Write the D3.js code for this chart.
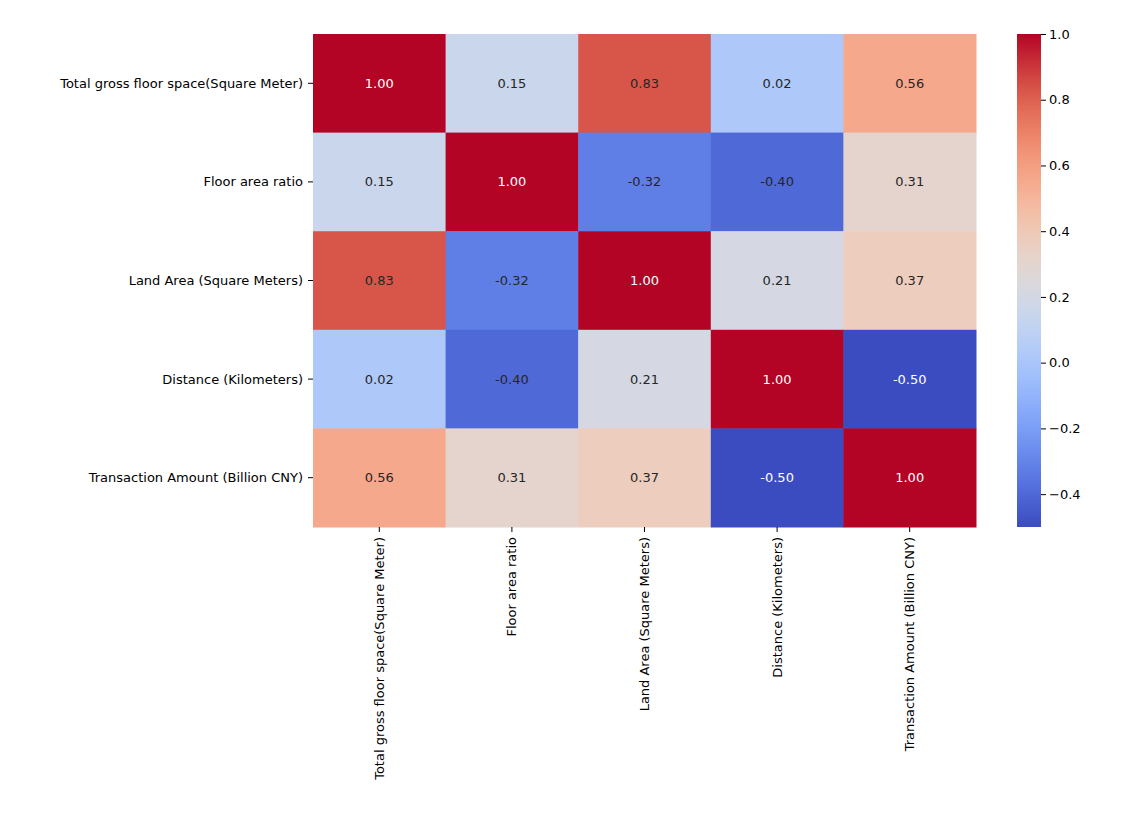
<!DOCTYPE html>
<html><head><meta charset="utf-8">
<script src="https://cdnjs.cloudflare.com/ajax/libs/d3/7.8.5/d3.min.js"></script>
<style>body{margin:0;background:#fff;} text{font-family:"DejaVu Sans",sans-serif;}</style>
</head><body>
<div id="chart"></div>
<script>
var labels = ["Total gross floor space(Square Meter)", "Floor area ratio", "Land Area (Square Meters)", "Distance (Kilometers)", "Transaction Amount (Billion CNY)"];
var values = [
  [1.00, 0.15, 0.83, 0.02, 0.56],
  [0.15, 1.00, -0.32, -0.40, 0.31],
  [0.83, -0.32, 1.00, 0.21, 0.37],
  [0.02, -0.40, 0.21, 1.00, -0.50],
  [0.56, 0.31, 0.37, -0.50, 1.00]
];
var cbTicks = [-0.4, -0.2, 0.0, 0.2, 0.4, 0.6, 0.8, 1.0];

// coolwarm approximation
var cwInterp = d3.interpolateRgbBasis(["#3b4cc0","#5977e3","#7b9ff9","#9ebeff","#c0d4f5","#dddcdc","#f2cbb7","#f7ac8e","#ee8468","#d65244","#b40426"]);
var vmin = -0.5, vmax = 1.0;
var color = d3.scaleSequential(cwInterp).domain([vmin, vmax]);

var svg = d3.select("#chart").append("svg").attr("width", 1124).attr("height", 834);
var mLeft = 313, mTop = 34, W = 663, H = 493;
var x = d3.scaleBand().domain(d3.range(5)).range([mLeft, mLeft + W]);
var y = d3.scaleBand().domain(d3.range(5)).range([mTop, mTop + H]);

var cells = [];
values.forEach(function(row, i) { row.forEach(function(v, j) { cells.push({i: i, j: j, v: v}); }); });

svg.selectAll("rect.cell").data(cells).enter().append("rect")
  .attr("x", function(d) { return x(d.j); })
  .attr("y", function(d) { return y(d.i); })
  .attr("width", x.bandwidth() + 0.5)
  .attr("height", y.bandwidth() + 0.5)
  .attr("fill", function(d) { return color(d.v); });

svg.selectAll("text.val").data(cells).enter().append("text")
  .attr("x", function(d) { return x(d.j) + x.bandwidth() / 2; })
  .attr("y", function(d) { return y(d.i) + y.bandwidth() / 2; })
  .attr("dy", "0.35em").attr("text-anchor", "middle").attr("font-size", 13)
  .attr("fill", function(d) {
    var c = d3.rgb(color(d.v));
    var lum = 0.2126 * c.r + 0.7152 * c.g + 0.0722 * c.b;
    return lum < 105 ? "#fff" : "#262626";
  })
  .text(function(d) { return d.v.toFixed(2); });

// axis labels
labels.forEach(function(l, i) {
  var cy = y(i) + y.bandwidth() / 2;
  svg.append("line").attr("x1", mLeft - 5).attr("x2", mLeft).attr("y1", cy).attr("y2", cy).attr("stroke", "#000");
  svg.append("text").attr("x", mLeft - 10).attr("y", cy).attr("dy", "0.35em")
    .attr("text-anchor", "end").attr("font-size", 13).text(l);
  var cx = x(i) + x.bandwidth() / 2;
  svg.append("line").attr("x1", cx).attr("x2", cx).attr("y1", mTop + H).attr("y2", mTop + H + 5).attr("stroke", "#000");
  svg.append("text").attr("transform", "translate(" + cx + "," + (mTop + H + 10) + ") rotate(-90)")
    .attr("dy", "0.35em").attr("text-anchor", "end").attr("font-size", 13).text(l);
});

// colorbar
var cbx = 1017, cbw = 24;
var cbScale = d3.scaleLinear().domain([vmin, vmax]).range([mTop + H, mTop]);
var grad = svg.append("defs").append("linearGradient").attr("id", "cb").attr("x1", 0).attr("y1", 1).attr("x2", 0).attr("y2", 0);
d3.range(0, 1.001, 0.05).forEach(function(t) {
  grad.append("stop").attr("offset", t).attr("stop-color", cwInterp(t));
});
svg.append("rect").attr("x", cbx).attr("y", mTop).attr("width", cbw).attr("height", H).attr("fill", "url(#cb)");
svg.append("g").attr("transform", "translate(" + (cbx + cbw) + ",0)")
  .call(d3.axisRight(cbScale).tickValues(cbTicks).tickFormat(function(d) { return d.toFixed(1).replace("-", "\u2212"); }).tickSize(5))
  .call(function(g) { g.select(".domain").remove(); g.selectAll("text").attr("font-size", 13).attr("font-family", "DejaVu Sans").attr("fill", "#000"); });
</script>
</body></html>
